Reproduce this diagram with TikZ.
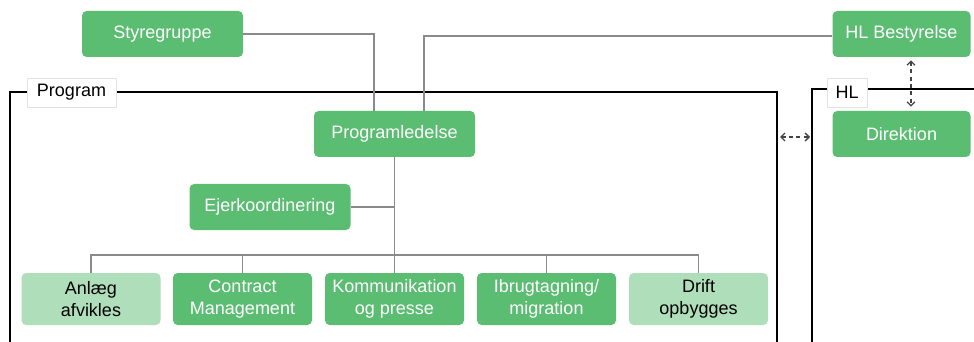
\documentclass[tikz,border=0pt]{standalone}
\usepackage{fontspec}
\setmainfont{Liberation Sans}
\usetikzlibrary{arrows.meta,calc}
\definecolor{dg}{HTML}{5BBD72}
\definecolor{lg}{HTML}{AFDEBA}
\definecolor{cg}{HTML}{8A8A8A}
\definecolor{lb}{HTML}{E2E2E2}
\definecolor{ag}{HTML}{444444}
\begin{document}
\begin{tikzpicture}[x=0.75pt,y=-0.75pt,
  box/.style={rectangle, rounded corners=3.5pt, fill=dg, text=white, inner sep=0pt, align=center,
    font=\fontsize{13.5}{16.3}\selectfont},
  topbox/.style={box, minimum width=120.75pt, minimum height=34.5pt},
  hlbox/.style={box, minimum width=103.5pt, minimum height=34.5pt},
  lowbox/.style={box, minimum width=104.25pt, minimum height=39pt},
  lightbox/.style={lowbox, fill=lg, text=black},
  conn/.style={draw=cg, line width=1.1pt},
  frame/.style={draw=black, line width=1.5pt},
  tag/.style={rectangle, fill=white, draw=lb, line width=0.5pt, inner sep=0pt, text=black,
    font=\fontsize{13.5}{16.3}\selectfont, minimum height=21.75pt},
  dar/.style={draw=ag, line width=1pt, dash pattern=on 3pt off 2.5pt,
    {Straight Barb[length=3pt,width=6pt]}-{Straight Barb[length=3pt,width=6pt]}}
]
\useasboundingbox (0,0) rectangle (974,342);
\fill[white] (0,0) rectangle (974,342);

% frames
\coordinate (pbl) at (10,342);
\coordinate (ptr) at (777,92);
\coordinate (pbr) at (777,342);
\coordinate (hbl) at (812,342);
\coordinate (htr) at (974,89);
\draw[frame] (pbl) |- (ptr) -- (pbr);
\draw[frame] (hbl) |- (htr);

\node[tag, minimum width=66.75pt] (tprog) at (71.5,92.5) {Program};
\node[tag, minimum width=30pt] (thl) at (847,92.5) {HL};

% nodes
\node[topbox] (sty) at (162.5,34) {Styregruppe};
\node[hlbox] (hlb) at (901.5,34) {HL Bestyrelse};
\node[topbox] (prog) at (394.5,134) {Programledelse};
\node[hlbox] (dir) at (901.5,134) {Direktion};
\node[topbox] (ejer) at (270,207) {Ejerkoordinering};

\node[lightbox] (anl) at (91,299) {Anlæg\\afvikles};
\node[lowbox] (cm) at (242.5,299) {Contract\\Management};
\node[lowbox] (kom) at (394.5,299) {Kommunikation\\og presse};
\node[lowbox] (ibr) at (546.5,299) {Ibrugtagning/\\migration};
\node[lightbox] (dri) at (698.5,299) {Drift\\opbygges};

\coordinate (bus) at (394.5,255);
\coordinate (ha) at (780,137);
\coordinate (hb) at (810,137);

% connectors
\draw[conn] (sty.east) -| ($(prog.north)+(-20.5,0)$);
\draw[conn] ($(hlb.west)+(0,2)$) -| ($(prog.north)+(29.5,0)$);
\draw[conn] (prog.south) -- (kom.north);
\draw[conn] (ejer.east) -- (ejer.east -| prog.south);
\draw[conn] (anl.north) -- (anl.north |- bus) -- (dri.north |- bus) -- (dri.north);
\draw[conn] (cm.north) -- (cm.north |- bus);
\draw[conn] (ibr.north) -- (ibr.north |- bus);

% dashed arrows
\draw[dar] ($(hlb.south)+(9.5,3)$) -- ($(dir.north)+(9.5,-4)$);
\draw[dar] (ha) -- (hb);
\end{tikzpicture}
\end{document}
